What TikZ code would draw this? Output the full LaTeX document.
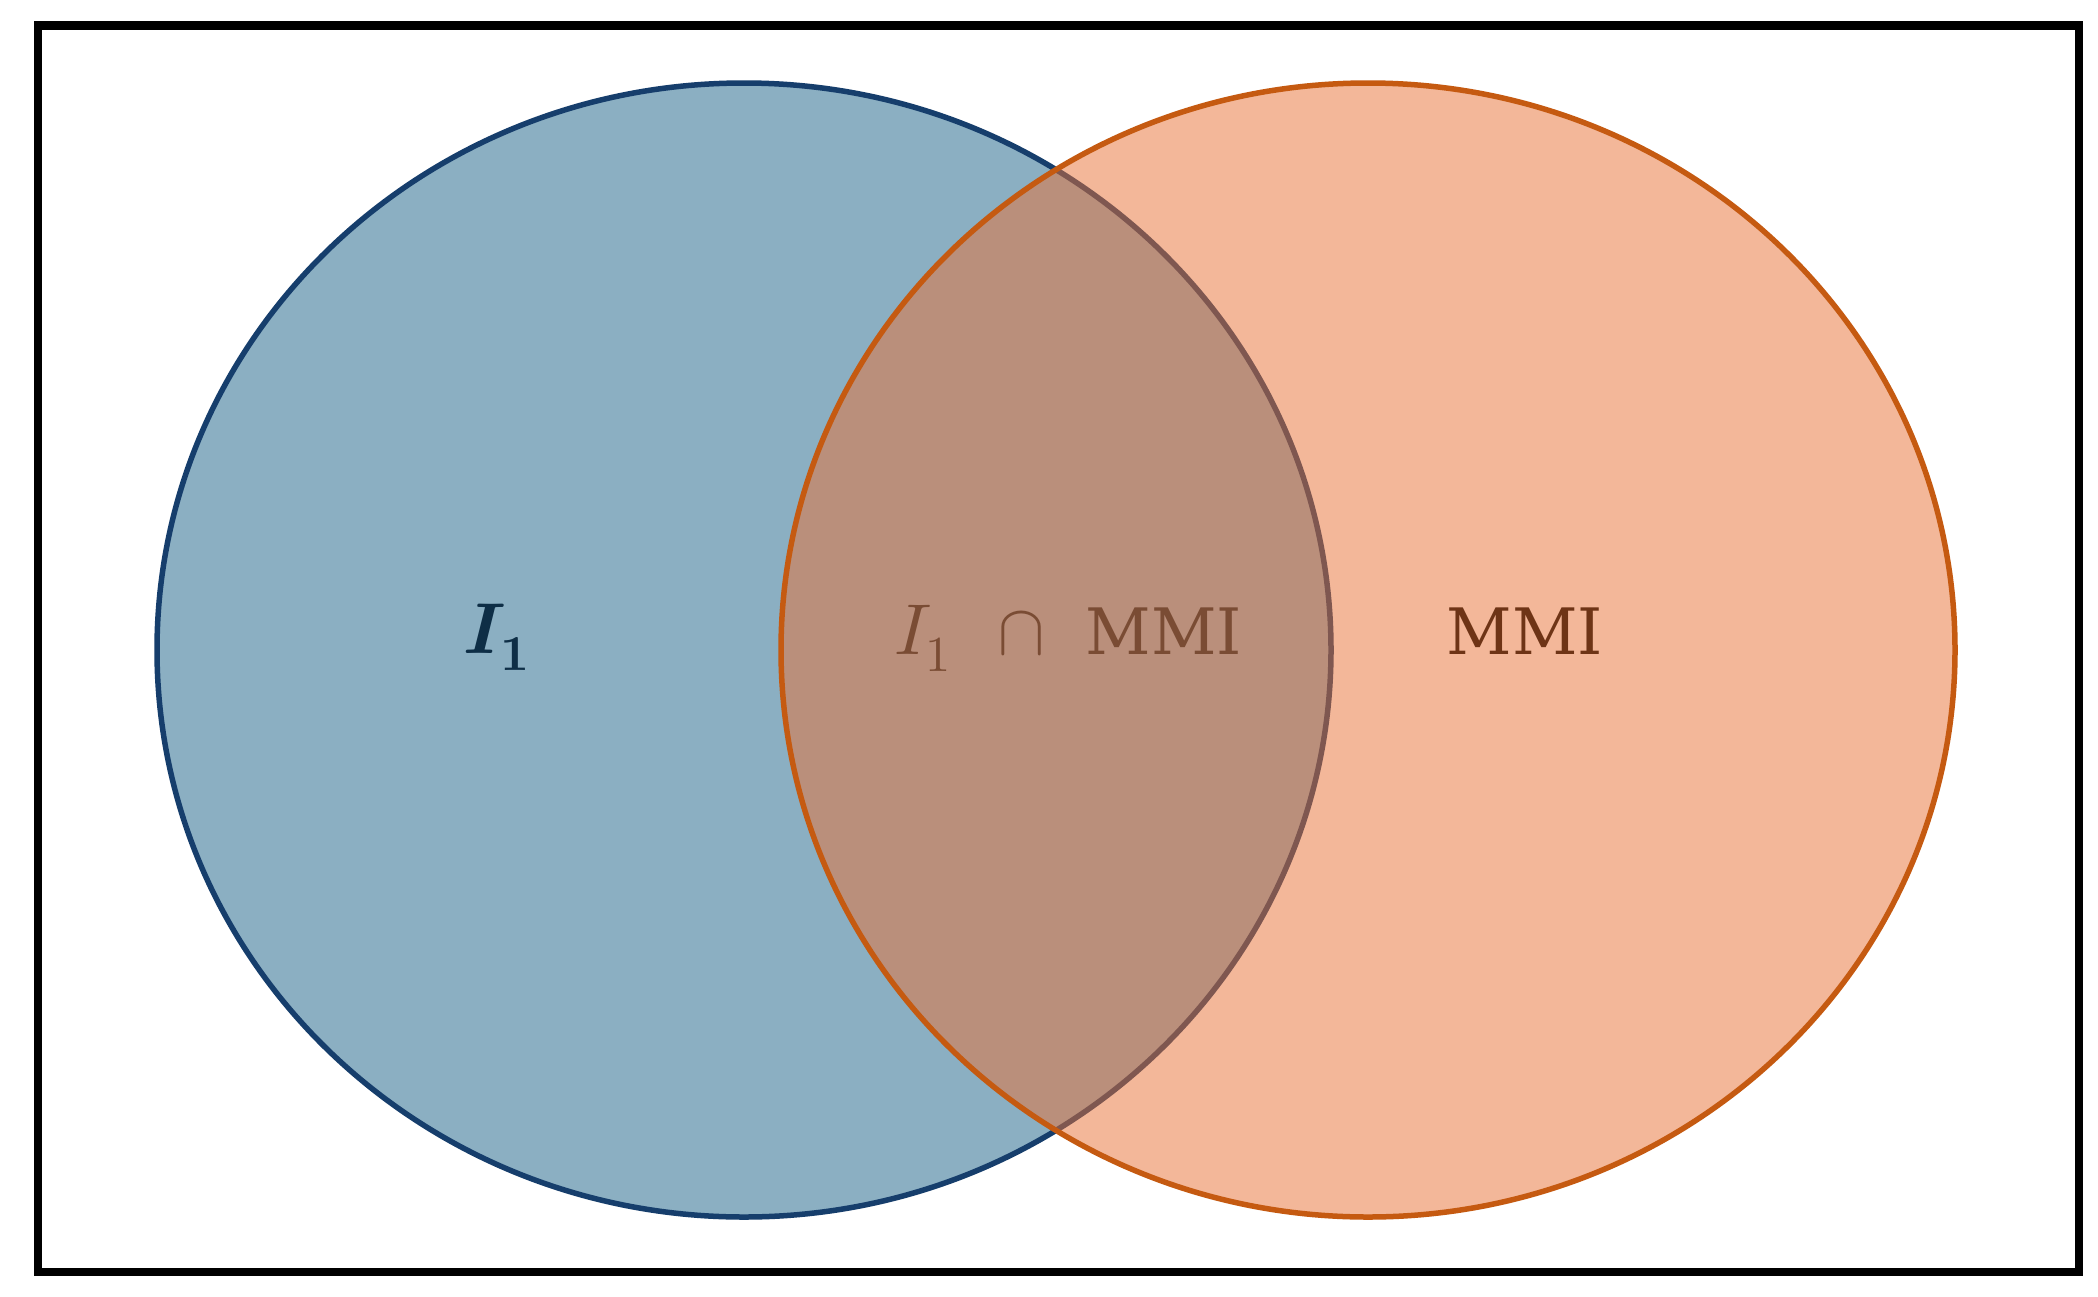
\documentclass[tikz,border=0pt]{standalone}
\usepackage{unicode-math}
\setmathfont{Latin Modern Math}
\newfontfamily\dvserif{DejaVu Serif}
\definecolor{bluefill}{RGB}{139,175,194}
\definecolor{bluestroke}{RGB}{22,62,108}
\definecolor{orangefill}{RGB}{233,113,53}
\definecolor{orangestroke}{RGB}{197,90,17}
\definecolor{navytext}{RGB}{14,46,70}
\definecolor{midtext}{RGB}{122,76,52}
\definecolor{righttext}{RGB}{110,52,22}
\tikzset{
  setA/.style={fill=bluefill, draw=bluestroke, line width=5.5pt},
  setBfill/.style={fill=orangefill, fill opacity=0.5, draw=none},
  setBline/.style={draw=orangestroke, line width=5.5pt},
  frame/.style={draw=black, line width=8.5pt},
  lbl/.style={anchor=base, inner sep=0pt, font=\fontsize{72}{86}\selectfont},
  wordlbl/.style={anchor=base, inner sep=0pt, font=\fontsize{64}{77}\dvserif}
}
\begin{document}
\begin{tikzpicture}[x=1pt,y=-1pt]
  \useasboundingbox (0,0) rectangle (2098,1296);
  \fill[white] (0,0) rectangle (2098,1296);
  \coordinate (cA) at (744,650);
  \coordinate (cB) at (1368,650);
  \path[setA] (cA) ellipse [x radius=587, y radius=567];
  \path[setBfill] (cB) ellipse [x radius=587, y radius=567];
  \path[setBline] (cB) ellipse [x radius=587, y radius=567];
  \node[lbl, text=navytext] (lA) at (497,653) {$\symbfit{I}_{\symbf{1}}$};
  \node[lbl, text=midtext] (lAB) at (1068,654) {$I_1$\hspace{46pt}$\cap$\hspace{40pt}{\fontsize{64}{77}\dvserif MMI}};
  \node[wordlbl, text=righttext] (lB) at (1525,654) {MMI};
  \node[frame, draw, minimum width=2041pt, minimum height=1246.5pt, inner sep=0pt, anchor=north west] (box) at (33.5,21) {};
\end{tikzpicture}
\end{document}
